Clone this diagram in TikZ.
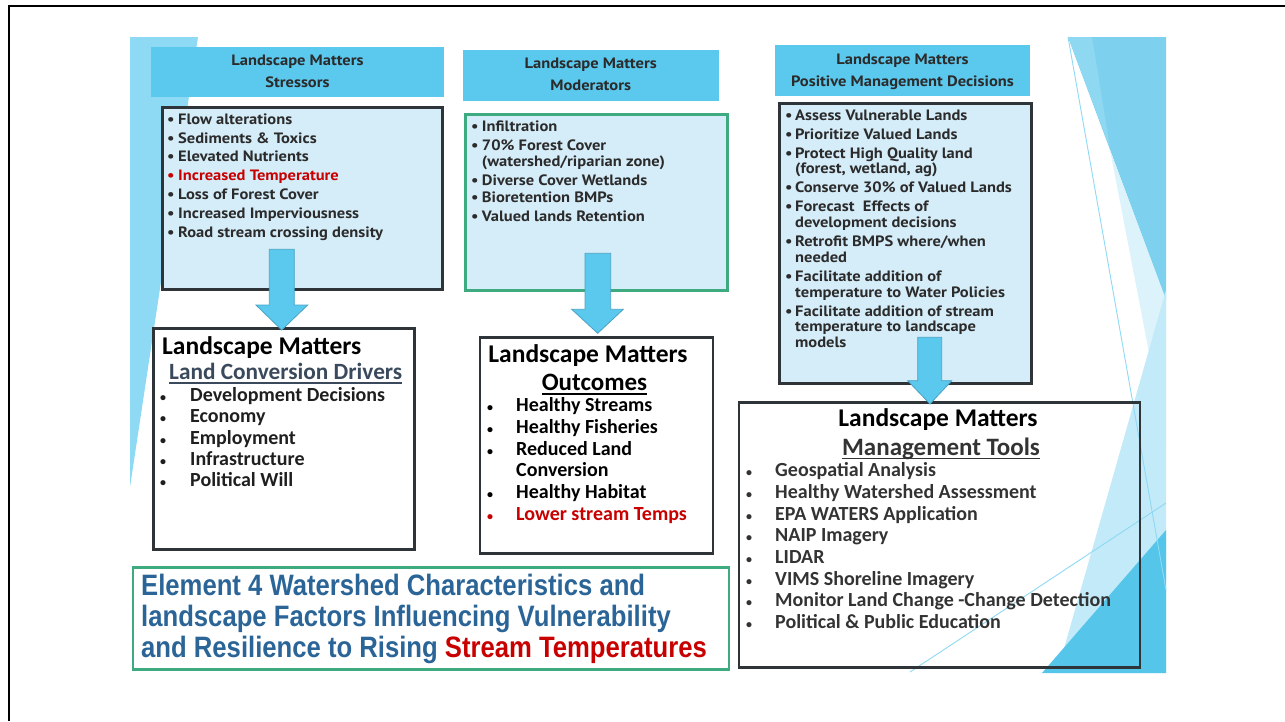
\documentclass[tikz,border=0pt]{standalone}
\usepackage{fontspec}
\setmainfont{Carlito}
\newfontfamily\treb[FakeStretch=1.1]{PT Sans}
\newfontfamily\narrowf[FakeStretch=0.87]{Liberation Sans}
\definecolor{hdr}{HTML}{5BC8EE}
\definecolor{pale}{HTML}{D5EDF9}
\definecolor{dark}{HTML}{2E3438}
\definecolor{grn}{HTML}{3DAA80}
\definecolor{txt}{HTML}{2B2B2B}
\definecolor{rd}{HTML}{C80000}
\definecolor{ttl}{HTML}{2B6597}
\definecolor{slate}{HTML}{3A4A5C}
\definecolor{arrline}{HTML}{4AA3C4}
\definecolor{decA}{HTML}{7DD1EF}
\definecolor{decB}{HTML}{8FD8F1}
\definecolor{decC}{HTML}{DDF3FB}
\definecolor{decD}{HTML}{C3EAF8}
\definecolor{decE}{HTML}{55C5EA}
\definecolor{decL}{HTML}{8ED9F3}
\tikzset{
  up/.style={font=\treb\bfseries\fontsize{15}{17}\selectfont, text=txt, inner sep=0pt, anchor=base west},
  uphead/.style={font=\treb\bfseries\fontsize{15}{17}\selectfont, text=txt, inner sep=0pt, anchor=base},
  low/.style={font=\bfseries\fontsize{20}{22}\selectfont, text=black!88, inner sep=0pt, anchor=base west},
  lowbul/.style={font=\bfseries\fontsize{12}{12}\selectfont, text=black!88, inner sep=0pt, anchor=base west},
  lowhead/.style={font=\bfseries\fontsize{25.5}{27}\selectfont, text=black, inner sep=0pt},
  hdrbox/.style={fill=hdr, draw=none, anchor=north west, inner sep=0pt},
  palebox/.style={fill=pale, draw=dark, line width=3pt, anchor=north west, inner sep=0pt},
  whitebox/.style={draw=dark, line width=2.6pt, anchor=north west, inner sep=0pt},
  blockarrow/.style={fill=hdr, draw=arrline, line width=0.8pt, line join=miter},
  ttltxt/.style={font=\narrowf\bfseries\fontsize{29.5}{31}\selectfont, text=ttl, inner sep=0pt, anchor=base west},
}
\begin{document}
\begin{tikzpicture}[x=1pt,y=-1pt]
\useasboundingbox (0,0) rectangle (1285,721);
% frame
\draw[line width=2pt, black] (1285,6) -- (9,6) -- (9,721);
% left decoration
\fill[decL] (130,37) -- (198,37) -- (130,487) -- cycle;
% right decoration
\fill[decA] (1068,37) -- (1166,37) -- (1166,300) -- cycle;
\fill[decB] (1068,37) -- (1092,37) -- (1110,148) -- cycle;
\fill[decC] (1110,150) -- (1166,300) -- (1166,441) -- cycle;
\fill[decD] (1166,290) -- (1166,673) -- (1057,673) -- cycle;
\fill[decE] (1166,530) -- (1166,673) -- (1042,673) -- cycle;
\draw[decL, line width=0.9pt] (1068,37) -- (1166,590);
\draw[decL, line width=0.9pt] (910,672) -- (1166,503);

% ---------- Stressors ----------
\node[hdrbox, minimum width=293pt, minimum height=50pt] (sthdr) at (151,47) {};
\node[uphead] (sth1) at (297.5,65) {Landscape Matters};
\node[uphead] (sth2) at (297.5,87.3) {Stressors};
\node[palebox, minimum width=280pt, minimum height=182pt] (stbox) at (160.5,105.5) {};
\foreach \yy/\bb/\cc/\tt [count=\i] in {
  124/•/txt/Flow alterations,
  143/•/txt/{Sediments \& Toxics},
  161.7/•/txt/Elevated Nutrients,
  180.7/•/rd/Increased Temperature,
  199.7/•/txt/Loss of Forest Cover,
  218.5/•/txt/Increased Imperviousness,
  237/•/txt/Road stream crossing density}
{ \node[up, text=\cc] (stb\i) at (167,\yy) {\bb};
  \node[up, text=\cc] (stt\i) at (178,\yy) {\tt}; }

% ---------- Moderators ----------
\node[hdrbox, minimum width=256pt, minimum height=50.7pt] (mdhdr) at (462.7,50) {};
\node[uphead] (mdh1) at (590.7,68.3) {Landscape Matters};
\node[uphead] (mdh2) at (590.7,90.7) {Moderators};
\node[palebox, draw=grn, minimum width=262pt, minimum height=176pt] (mdbox) at (464.2,112.5) {};
\foreach \yy/\bb/\tt [count=\i] in {
  131/•/Infiltration,
  150/•/70\% Forest Cover,
  166.7//{(watershed/riparian zone)},
  185/•/Diverse Cover Wetlands,
  202.7/•/Bioretention BMPs,
  221.7/•/Valued lands Retention}
{ \node[up] (mdb\i) at (471,\yy) {\bb};
  \node[up] (mdt\i) at (481.7,\yy) {\tt}; }

% ---------- Positive Management Decisions ----------
\node[hdrbox, minimum width=255pt, minimum height=50.7pt] (pmhdr) at (775,45) {};
\node[uphead] (pmh1) at (902.5,64) {Landscape Matters};
\node[uphead] (pmh2) at (902.5,86) {Positive Management Decisions};
\node[palebox, minimum width=252.7pt, minimum height=279.3pt] (pmbox) at (777.5,102.2) {};
\foreach \yy/\bb/\tt [count=\i] in {
  120.7/•/Assess Vulnerable Lands,
  139.3/•/Prioritize Valued Lands,
  158.3/•/Protect High Quality land,
  173.3//{(forest, wetland, ag)},
  192.3/•/Conserve 30\% of Valued Lands,
  211/•/Forecast \ Effects of,
  227.3//development decisions,
  246.7/•/{Retrofit BMPS where/when},
  262.3//needed,
  281.7/•/Facilitate addition of,
  297.7//temperature to Water Policies,
  316.7/•/Facilitate addition of stream,
  331.7//temperature to landscape,
  347.7//models}
{ \node[up] (pmb\i) at (785,\yy) {\bb};
  \node[up] (pmt\i) at (795,\yy) {\tt}; }

% ---------- Land Conversion Drivers ----------
\node[whitebox, fill=white, minimum width=261pt, minimum height=221pt] (lcbox) at (152,327) {};
\node[lowhead, anchor=base west] (lch1) at (162,354) {Landscape Matters};
\node[low, font=\bfseries\fontsize{23.3}{25}\selectfont, text=slate] (lch2) at (169,379.5) {Land Conversion Drivers};
\draw[slate, line width=1.2pt] ([yshift=-3.5pt]lch2.base west) -- ([yshift=-3.5pt]lch2.base east);
\foreach \yy/\tt [count=\i] in {
  401.5/Development Decisions,
  422.5/Economy,
  444/Employment,
  465/Infrastructure,
  486.5/Political Will}
{ \node[lowbul] (lcb\i) at (160,\yy) {•};
  \node[low] (lct\i) at (190,\yy) {\tt}; }

% ---------- Outcomes ----------
\node[whitebox, fill=white, minimum width=233pt, minimum height=216pt] (ocbox) at (478.5,336) {};
\node[lowhead, anchor=base] (och1) at (588,362) {Landscape Matters};
\node[lowhead, anchor=base, font=\bfseries\fontsize{25}{27}\selectfont] (och2) at (594.5,390.5) {Outcomes};
\draw[black, line width=1.3pt] ([yshift=-3.5pt]och2.base west) -- ([yshift=-3.5pt]och2.base east);
\foreach \yy/\bb/\cc/\tt [count=\i] in {
  411.5/•/black/Healthy Streams,
  433.5/•/black/Healthy Fisheries,
  455/•/black/Reduced Land,
  476.5//black/Conversion,
  498/•/black/Healthy Habitat,
  520/•/rd/Lower stream Temps}
{ \node[lowbul, text=\cc] (ocb\i) at (487,\yy) {\bb};
  \node[low, text=\cc] (oct\i) at (516,\yy) {\tt}; }

% ---------- Management Tools ----------
\node[whitebox, minimum width=401pt, minimum height=265pt] (mtbox) at (737.5,401) {};
\node[lowhead, anchor=base] (mth1) at (938,426) {Landscape Matters};
\node[lowhead, anchor=base, font=\bfseries\fontsize{25}{27}\selectfont, text=black!80] (mth2) at (941,455) {Management Tools};
\draw[black!80, line width=1.3pt] ([yshift=-3.5pt]mth2.base west) -- ([yshift=-3.5pt]mth2.base east);
\foreach \yy/\tt [count=\i] in {
  476/Geospatial Analysis,
  498/Healthy Watershed Assessment,
  520/EPA WATERS Application,
  541.5/NAIP Imagery,
  563/LIDAR,
  585/VIMS Shoreline Imagery,
  606.5/Monitor Land Change -Change Detection,
  628/{Political \& Public Education}}
{ \node[lowbul, text=black!80] (mtb\i) at (746,\yy) {•};
  \node[low, text=black!80] (mtt\i) at (775,\yy) {\tt}; }

% ---------- Title box ----------
\node[draw=grn, line width=2.6pt, anchor=north west, inner sep=0pt, minimum width=596pt, minimum height=102pt] (ttlbox) at (131.5,566) {};
\node[ttltxt] (tt1) at (141,595.5) {Element 4 Watershed Characteristics and};
\node[ttltxt] (tt2) at (141,626.5) {landscape Factors Influencing Vulnerability};
\node[ttltxt] (tt3) at (141,657.5) {and Resilience to Rising \textcolor{rd}{Stream Temperatures}};

% ---------- Block arrows ----------
\draw[blockarrow] (269.3,249.3) -- (294.3,249.3) -- (294.3,305) -- (307.7,305) -- (281.7,330)
  -- (256,305) -- (269.3,305) -- cycle;
\draw[blockarrow] (585,253.3) -- (610.7,253.3) -- (610.7,309.3) -- (623.3,309.3) -- (597.7,333.3)
  -- (571.7,309.3) -- (585,309.3) -- cycle;
\draw[blockarrow] (917.7,337.3) -- (941.7,337.3) -- (941.7,380.7) -- (951.7,380.7) -- (930,404)
  -- (907.7,380.7) -- (917.7,380.7) -- cycle;
\end{tikzpicture}
\end{document}
